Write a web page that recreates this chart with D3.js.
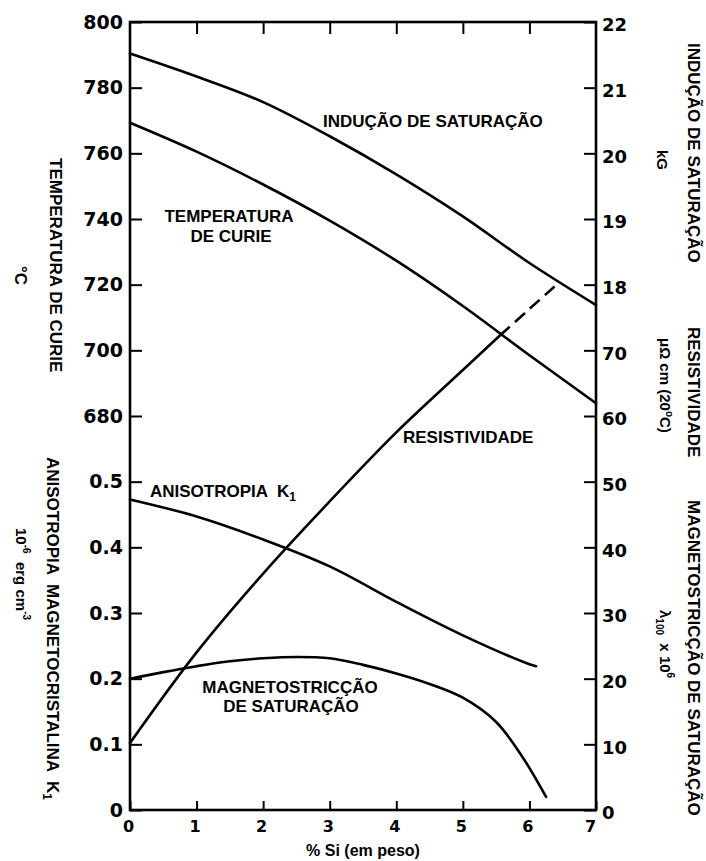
<!DOCTYPE html>
<html>
<head>
<meta charset="utf-8">
<script src="https://cdn.jsdelivr.net/npm/d3@7"></script>
<style>
  body { margin: 0; background: #fff; }
  svg { display: block; }
  text { font-family: "Liberation Sans", Arial, sans-serif; font-weight: bold; fill: #000; white-space: pre; }
  .tick text { font-family: "DejaVu Sans", sans-serif; }
</style>
</head>
<body>
<div id="main"></div>
<script>
// data
const siPct = [0, 1, 2, 3, 4, 5, 6, 7];
const curieTemp = [769.3, 760.5, 750.5, 739.5, 727.3, 713.5, 698.5, 683.9];
const satInduction = [21.52, 21.17, 20.78, 20.26, 19.68, 19.04, 18.33, 17.69];

const resistSi = [0, 1, 2, 3, 4, 5, 5.56];
const resist = [10.2, 24, 36, 47, 57.5, 67, 72.3];
const resistDashSi = [5.56, 6, 6.43];
const resistDash = [72.3, 76.3, 80.2];

const anisoSi = [0, 1, 2, 3, 4, 5, 6, 6.1];
const anisoK1 = [0.473, 0.447, 0.412, 0.371, 0.317, 0.266, 0.222, 0.219];

const magnetoSi = [0, 0.5, 1, 1.5, 2, 2.5, 3, 3.5, 4, 4.5, 5, 5.5, 5.9, 6.25];
const magnetoLambda = [20, 21.0, 21.9, 22.65, 23.1, 23.3, 23.1, 22.1, 20.8, 19.2, 17.1, 13.4, 8, 2];

const xTicks = [0, 1, 2, 3, 4, 5, 6, 7];
const tempTicks = [680, 700, 720, 740, 760, 780, 800];
const k1Ticks = [0, 0.1, 0.2, 0.3, 0.4, 0.5];
const kgTicks = [18, 19, 20, 21, 22];
const resTicks = [60, 70];
const lambdaTicks = [0, 10, 20, 30, 40, 50];

const width = 706;
const height = 861;
const plotLeft = 130, plotRight = 596, plotTop = 22, plotBottom = 810;
const step = (plotBottom - plotTop) / 12;

const svg = d3.select('#main')
  .append('svg')
  .attr('width', width)
  .attr('height', height);

svg.append('rect').attr('width', width).attr('height', height).attr('fill', '#fff');

const xScale = d3.scaleLinear().domain([0, 7]).range([plotLeft, plotRight]);
const tempY = d3.scaleLinear().domain([680, 800]).range([plotTop + 6 * step, plotTop]);
const kgY = d3.scaleLinear().domain([18, 22]).range([plotTop + 4 * step, plotTop]);
const resY = d3.scaleLinear().domain([0, 70]).range([plotBottom, plotBottom - 7 * step]);
const k1Y = d3.scaleLinear().domain([0, 0.5]).range([plotBottom, plotBottom - 5 * step]);
const lamY = d3.scaleLinear().domain([0, 50]).range([plotBottom, plotBottom - 5 * step]);

const intFormat = d3.format('d');

// axes
function styleAxis(g) {
  g.select('.domain').remove();
  g.selectAll('.tick line').attr('stroke', '#000').attr('stroke-width', 2);
}

svg.append('g')
  .attr('transform', `translate(${plotLeft},0)`)
  .call(d3.axisLeft(tempY).tickValues(tempTicks).tickFormat(intFormat)
    .tickSizeInner(-12).tickSizeOuter(0).tickPadding(7))
  .call(styleAxis)
  .call(g => g.selectAll('text').attr('font-size', 19));

svg.append('g')
  .attr('transform', `translate(${plotLeft},0)`)
  .call(d3.axisLeft(k1Y).tickValues(k1Ticks).tickSizeInner(-12).tickSizeOuter(0).tickPadding(7)
    .tickFormat(d => d === 0 ? '0' : d.toFixed(1)))
  .call(styleAxis)
  .call(g => g.selectAll('text').attr('font-size', 19));

const rightAxes = [[kgY, kgTicks], [resY, resTicks], [lamY, lambdaTicks]];
rightAxes.forEach(([scale, ticks]) => {
  svg.append('g')
    .attr('transform', `translate(${plotRight},0)`)
    .call(d3.axisRight(scale).tickValues(ticks).tickFormat(intFormat)
      .tickSizeInner(-12).tickSizeOuter(0).tickPadding(6))
    .call(styleAxis)
    .call(g => g.selectAll('text').attr('font-size', 18).attr('y', 3));
});

svg.append('g')
  .attr('transform', `translate(0,${plotBottom})`)
  .call(d3.axisBottom(xScale).tickValues(xTicks).tickFormat(intFormat)
    .tickSizeInner(-9).tickSizeOuter(0).tickPadding(11))
  .call(styleAxis)
  .call(g => g.selectAll('text').attr('font-size', 16).attr('x', -2))
  .call(g => g.selectAll('.tick:last-of-type text').attr('x', -6));

svg.append('g')
  .attr('transform', `translate(0,${plotTop})`)
  .call(d3.axisTop(xScale).tickValues(xTicks.slice(1, -1)).tickSizeInner(-12).tickSizeOuter(0).tickFormat(''))
  .call(styleAxis);

svg.append('rect')
  .attr('x', plotLeft).attr('y', plotTop)
  .attr('width', plotRight - plotLeft).attr('height', plotBottom - plotTop)
  .attr('fill', 'none').attr('stroke', '#000').attr('stroke-width', 2.6);

// curves
function drawCurve(xs, ys, yScale, dash) {
  const line = d3.line()
    .x(d => xScale(d[0]))
    .y(d => yScale(d[1]))
    .curve(d3.curveCatmullRom.alpha(0.5));
  svg.append('path')
    .datum(d3.zip(xs, ys))
    .attr('d', line)
    .attr('fill', 'none')
    .attr('stroke', '#000')
    .attr('stroke-width', 2.6)
    .attr('stroke-linecap', dash ? 'butt' : 'round')
    .attr('stroke-dasharray', dash || null);
}

drawCurve(siPct, satInduction, kgY);
drawCurve(siPct, curieTemp, tempY);
drawCurve(resistSi, resist, resY);
drawCurve(resistDashSi, resistDash, resY, '13,7');
drawCurve(anisoSi, anisoK1, k1Y);
drawCurve(magnetoSi, magnetoLambda, lamY);

// labels inside the plot
function label(x, y, txt, anchor, size) {
  return svg.append('text')
    .attr('x', x).attr('y', y)
    .attr('text-anchor', anchor || 'start')
    .attr('font-size', size || 17)
    .text(txt);
}

label(323, 127, 'INDUÇÃO DE SATURAÇÃO');
label(229, 222, 'TEMPERATURA', 'middle');
label(231, 242, 'DE CURIE', 'middle');
label(403, 443, 'RESISTIVIDADE');
const aniso = label(150, 497, 'ANISOTROPIA  K');
aniso.append('tspan').attr('dy', 4).attr('font-size', 12).text('1');
label(290, 693, 'MAGNETOSTRICÇÃO', 'middle');
label(291, 712, 'DE SATURAÇÃO', 'middle');

label((plotLeft + plotRight) / 2, 856, '% Si (em peso)', 'middle', 16);

// rotated axis titles (read top to bottom)
function vlabel(x, y, size) {
  return svg.append('text')
    .attr('transform', `translate(${x},${y}) rotate(90)`)
    .attr('font-size', size || 17);
}

vlabel(50, 158).text('TEMPERATURA DE CURIE');
vlabel(15, 266).text('°C');
const k1Title = vlabel(47, 457).text('ANISOTROPIA  MAGNETOCRISTALINA  K');
k1Title.append('tspan').attr('dy', 4).attr('font-size', 12).text('1');
const k1Unit = vlabel(16, 528, 15).text('10');
k1Unit.append('tspan').attr('dy', -7).attr('font-size', 10).text('-6');
k1Unit.append('tspan').attr('dy', 7).text('  erg cm');
k1Unit.append('tspan').attr('dy', -7).attr('font-size', 10).text('-3');

vlabel(688, 43).text('INDUÇÃO DE SATURAÇÃO');
vlabel(657, 150, 15).text('kG');
vlabel(688, 327).text('RESISTIVIDADE');
const resUnit = vlabel(660, 338, 15).text('μΩ cm (20');
resUnit.append('tspan').attr('dy', -6).attr('font-size', 10).text('o');
resUnit.append('tspan').attr('dy', 6).text('C)');
vlabel(688, 500).text('MAGNETOSTRICÇÃO DE SATURAÇÃO');
const lamUnit = vlabel(660, 610, 15).text('λ');
lamUnit.append('tspan').attr('dy', 4).attr('font-size', 10).text('100');
lamUnit.append('tspan').attr('dy', -4).text('  x 10');
lamUnit.append('tspan').attr('dy', -7).attr('font-size', 10).text('6');
</script>
</body>
</html>
